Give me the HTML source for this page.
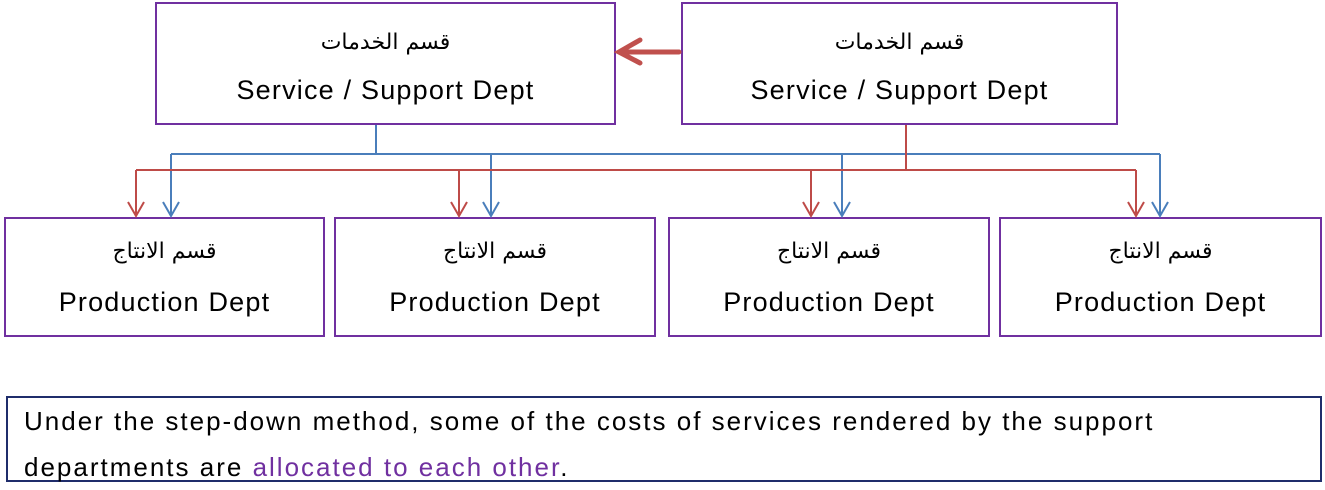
<!DOCTYPE html>
<html><head><meta charset="utf-8"><style>
body{margin:0;width:1325px;height:484px;background:#fff;position:relative;font-family:"Liberation Sans","DejaVu Sans",sans-serif;overflow:hidden}
.b{position:absolute;border:2px solid #7030a0;box-sizing:border-box;text-align:center;color:#000}
.ar{font-size:22px;font-family:"DejaVu Serif","DejaVu Sans",serif;margin-top:24px;height:30px;line-height:30px}
.en{font-size:27px;letter-spacing:1.2px;line-height:30px;margin-top:17px}
.bt .ar{margin-top:18px}
.bt .en{margin-top:20px}
</style></head><body>
<div class="b" style="left:155px;top:2px;width:461px;height:123px"><div class="ar">قسم الخدمات</div><div class="en">Service / Support Dept</div></div>
<div class="b" style="left:681px;top:2px;width:437px;height:123px"><div class="ar">قسم الخدمات</div><div class="en">Service / Support Dept</div></div>
<div class="b bt" style="left:4px;top:217px;width:321px;height:120px"><div class="ar">قسم الانتاج</div><div class="en">Production Dept</div></div>
<div class="b bt" style="left:334px;top:217px;width:322px;height:120px"><div class="ar">قسم الانتاج</div><div class="en">Production Dept</div></div>
<div class="b bt" style="left:668px;top:217px;width:322px;height:120px"><div class="ar">قسم الانتاج</div><div class="en">Production Dept</div></div>
<div class="b bt" style="left:999px;top:217px;width:323px;height:120px"><div class="ar">قسم الانتاج</div><div class="en">Production Dept</div></div>
<svg width="1325" height="484" style="position:absolute;left:0;top:0" fill="none">
<g stroke="#4a7ebb" stroke-width="2">
<path d="M376 125V154M171 154H1160M171 154V216M491 154V216M842 154V216M1160 154V216"/>
<path d="M163 202L171 216L179 202M483 202L491 216L499 202M834 202L842 216L850 202M1152 202L1160 216L1168 202"/>
</g>
<g stroke="#be4b48" stroke-width="2">
<path d="M906 125V170M136 170H1136M136 170V216M459 170V216M811 170V216M1136 170V216"/>
<path d="M128 202L136 216L144 202M451 202L459 216L467 202M803 202L811 216L819 202M1128 202L1136 216L1144 202"/>
</g>
<g stroke="#c0504d" stroke-width="5" stroke-linecap="round">
<path d="M679 52H621M640 40L619 52L640 63"/>
</g>
</svg>
<div style="position:absolute;left:6px;top:396px;width:1316px;height:86px;border:2px solid #1f2d6b;box-sizing:border-box;padding:0 0 0 16px;font-size:26px;letter-spacing:2px;line-height:46px;color:#000;white-space:nowrap">Under the step-down method, some of the costs of services rendered by the support<br>departments are <span style="color:#7030a0">allocated to each other</span>.</div>
</body></html>
